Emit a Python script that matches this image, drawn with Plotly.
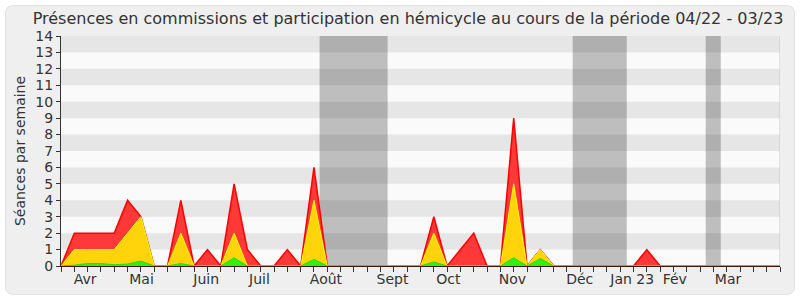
import plotly.graph_objects as go

# Weekly data (week index from start of period)
weeks = list(range(0, 55))
red_total = [0, 2, 2, 2, 2, 4, 3, 0, 0, 4, 0, 1, 0, 5, 1, 0, 0, 1, 0, 6,
             0, 0, 0, 0, 0, 0, 0, 0, 3, 0, 1, 2, 0, 0, 9, 0, 1, 0, 0, 0,
             0, 0, 0, 0, 1, 0, 0, 0, 0, 0, 0, 0, 0, 0, 0]
yellow_vals = [0, 1, 1, 1, 1, 2, 3, 0, 0, 2, 0, 0, 0, 2, 0, 0, 0, 0, 0, 4,
               0, 0, 0, 0, 0, 0, 0, 0, 2, 0, 0, 0, 0, 0, 5, 0, 1, 0, 0, 0,
               0, 0, 0, 0, 0, 0, 0, 0, 0, 0, 0, 0, 0, 0, 0]
green_vals = [0, 0.05, 0.15, 0.15, 0.08, 0.12, 0.3, 0, 0, 0.15, 0, 0, 0, 0.5, 0, 0, 0, 0, 0, 0.4,
              0, 0, 0, 0, 0, 0, 0, 0, 0.25, 0, 0, 0, 0, 0, 0.5, 0, 0.45, 0, 0, 0,
              0, 0, 0, 0, 0, 0, 0, 0, 0, 0, 0, 0, 0, 0, 0]

month_pos = [1.82, 6.05, 10.9, 14.9, 19.9, 24.9, 29.1, 33.9, 38.96, 42.9, 46.1, 50.1]
month_labels = ["Avr", "Mai", "Juin", "Juil", "Août", "Sept", "Oct", "Nov", "Déc", "Jan 23", "Fév", "Mar"]

vac_start = [19.42, 38.43, 48.42]
vac_end = [24.53, 42.49, 49.55]

y_ticks = list(range(0, 15))

FONT = "DejaVu Sans"
TXT = "#333333"

fig = go.Figure()
fig.add_trace(go.Scatter(x=weeks, y=red_total, mode="lines", fill="tozeroy",
                         fillcolor="#ff3838", line=dict(color="#ff0000", width=1.5),
                         hoverinfo="skip", showlegend=False))
fig.add_trace(go.Scatter(x=weeks, y=yellow_vals, mode="lines", fill="tozeroy",
                         fillcolor="#ffd40a", line=dict(color="#ffff00", width=1),
                         hoverinfo="skip", showlegend=False))
fig.add_trace(go.Scatter(x=weeks, y=green_vals, mode="lines", fill="tozeroy",
                         fillcolor="#33ee11", line=dict(color="#22dd00", width=1),
                         hoverinfo="skip", showlegend=False))

shapes = []
# outer rounded frame (paper coords relative to plot area)
L, R, T, B = 61, 20, 36, 34
W, H = 800 - L - R, 300 - T - B
def px(x):
    return (x - L) / W
def py(y):
    return 1 - (y - T) / H
x0, x1, y0, y1, rr = 5.5, 794.5, 5.5, 294.5, 8
path = (f"M {px(x0+rr)},{py(y0)} L {px(x1-rr)},{py(y0)} Q {px(x1)},{py(y0)} {px(x1)},{py(y0+rr)} "
        f"L {px(x1)},{py(y1-rr)} Q {px(x1)},{py(y1)} {px(x1-rr)},{py(y1)} "
        f"L {px(x0+rr)},{py(y1)} Q {px(x0)},{py(y1)} {px(x0)},{py(y1-rr)} "
        f"L {px(x0)},{py(y0+rr)} Q {px(x0)},{py(y0)} {px(x0+rr)},{py(y0)} Z")
shapes.append(dict(type="path", xref="paper", yref="paper", path=path,
                   fillcolor="#efefef", line=dict(color="#e2e2e2", width=1), layer="below"))
# plot background
shapes.append(dict(type="rect", xref="x", yref="y", x0=0, x1=54, y0=0, y1=14,
                   fillcolor="#fafafa", line=dict(width=0), layer="below"))
for s, e in zip(vac_start, vac_end):
    shapes.append(dict(type="rect", xref="x", yref="y", x0=s, x1=e, y0=0, y1=14,
                       fillcolor="#bebebe", line=dict(width=0), layer="below"))
for k in range(1, 14, 2):
    shapes.append(dict(type="rect", xref="x", yref="y", x0=0, x1=54, y0=k, y1=k + 1,
                       fillcolor="rgba(0,0,0,0.08)", line=dict(width=0), layer="below"))
# right border line
shapes.append(dict(type="line", xref="x", yref="y", x0=54, x1=54, y0=0, y1=14,
                   line=dict(color="#c8c8c8", width=1), layer="below"))

fig.update_layout(
    width=800, height=300,
    margin=dict(l=L, r=R, t=T, b=B),
    paper_bgcolor="#ffffff",
    plot_bgcolor="rgba(0,0,0,0)",
    font=dict(family=FONT, size=14, color=TXT),
    title=dict(text="Présences en commissions et participation en hémicycle au cours de la période 04/22 - 03/23",
               x=0.51, xanchor="center", y=0.94, yanchor="middle",
               font=dict(family=FONT, size=16, color=TXT)),
    shapes=shapes,
    xaxis=dict(range=[0, 54], tickmode="array", tickvals=month_pos, ticktext=month_labels,
               ticks="", showgrid=False, zeroline=False, showline=True, linecolor="#3a1a10",
               linewidth=1, tickfont=dict(size=14, color=TXT),
               minor=dict(tickmode="array", tickvals=weeks, ticks="outside", ticklen=5,
                          tickcolor="#333333", showgrid=False)),
    xaxis2=dict(range=[0, 54], overlaying="x", side="top", anchor="y", tickmode="array",
                tickvals=weeks, ticks="outside", ticklen=2, tickcolor="#444444",
                showticklabels=False, showgrid=False, zeroline=False, showline=False),
    yaxis=dict(range=[0, 14], tickmode="array", tickvals=y_ticks, ticks="outside", ticklen=4,
               tickcolor="#333333", showgrid=False, zeroline=False, showline=True,
               linecolor="#333333", linewidth=1, tickfont=dict(size=14, color=TXT),
               title=dict(text="Séances par semaine", font=dict(size=14, color=TXT), standoff=6)),
)

fig.write_html("out.html")
